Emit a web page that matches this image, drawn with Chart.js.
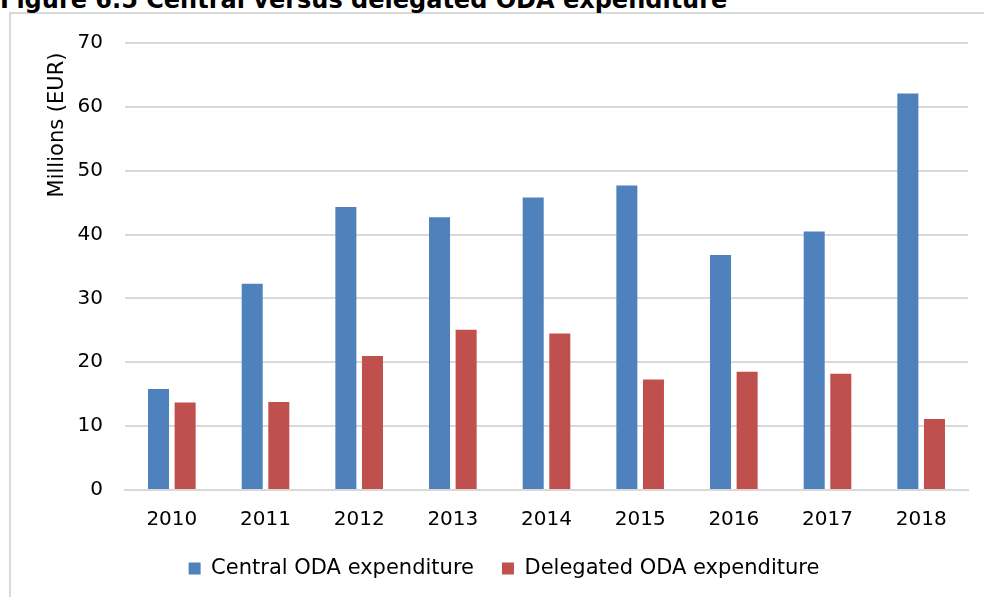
<!DOCTYPE html>
<html>
<head>
<meta charset="utf-8">
<script src="https://cdn.jsdelivr.net/npm/chart.js@4.4.1/dist/chart.umd.min.js"></script>
<style>
  html, body { margin: 0; padding: 0; background: #fff; overflow: hidden; }
  #wrap { position: relative; width: 984px; height: 597px; }
  #frame { position: absolute; left: 9px; top: 12px; width: 1000px; height: 700px; border: 2px solid #D9D9D9; box-sizing: border-box; }
  #title { position: absolute; left: 0; top: -12px; font: bold 24px "DejaVu Sans", Verdana, sans-serif; line-height: 24px; color: #000; white-space: nowrap; }
  #c { position: absolute; left: 0; top: 0; }
</style>
</head>
<body>
<div id="wrap">
  <div id="frame"></div>
  <div id="title">Figure 6.5 Central versus delegated ODA expenditure</div>
  <canvas id="c" width="984" height="597"></canvas>
</div>
<script>
const years = ['2010', '2011', '2012', '2013', '2014', '2015', '2016', '2017', '2018'];
const centralODA = [15.8, 32.3, 44.3, 42.7, 45.8, 47.7, 36.8, 40.5, 62.1];
const delegatedODA = [13.7, 13.8, 21.0, 25.1, 24.5, 17.3, 18.5, 18.2, 11.1];
const seriesNames = ['Central ODA expenditure', 'Delegated ODA expenditure'];
const yTicks = [0, 10, 20, 30, 40, 50, 60, 70];
const yTitle = 'Millions (EUR)';

const FONT = '"DejaVu Sans", Verdana, sans-serif';

const yTitlePlugin = {
  id: 'yTitle',
  afterDraw(chart) {
    const ctx = chart.ctx;
    ctx.save();
    ctx.translate(58, 125);
    ctx.rotate(-Math.PI / 2);
    ctx.fillStyle = '#000';
    ctx.font = '21px ' + FONT;
    ctx.textAlign = 'center';
    ctx.textBaseline = 'middle';
    ctx.fillText(yTitle, 0, 0);
    ctx.restore();
  }
};

new Chart(document.getElementById('c'), {
  type: 'bar',
  data: {
    labels: years,
    datasets: [
      { label: seriesNames[0], data: centralODA, backgroundColor: '#4F81BD', borderWidth: 0,
        categoryPercentage: 0.568, barPercentage: 0.79 },
      { label: seriesNames[1], data: delegatedODA, backgroundColor: '#C0504D', borderWidth: 0,
        categoryPercentage: 0.568, barPercentage: 0.79 }
    ]
  },
  plugins: [yTitlePlugin],
  options: {
    responsive: false,
    animation: false,
    layout: { padding: { top: 43, left: 40, right: 16, bottom: 8 } },
    plugins: {
      legend: {
        position: 'bottom',
        labels: {
          boxWidth: 12, boxHeight: 12, padding: 28,
          color: '#000',
          font: { family: FONT, size: 21, lineHeight: 1 }
        }
      },
      tooltip: { enabled: false }
    },
    scales: {
      x: {
        grid: { display: false, drawTicks: false },
        border: { display: true, color: '#D9D9D9', width: 2 },
        ticks: { color: '#000', font: { family: FONT, size: 20, lineHeight: 1 }, padding: 20, maxRotation: 0 },
        afterFit: (s) => { s.height = 40; }
      },
      y: {
        min: 0, max: 70,
        afterBuildTicks: (s) => { s.ticks = yTicks.map(v => ({ value: v })); },
        grid: { color: '#D9D9D9', lineWidth: 2, drawTicks: false },
        border: { display: false },
        ticks: { color: '#000', font: { family: FONT, size: 20 }, padding: 22 },
        afterFit: (s) => { s.width = 85; }
      }
    }
  }
});
</script>
</body>
</html>
